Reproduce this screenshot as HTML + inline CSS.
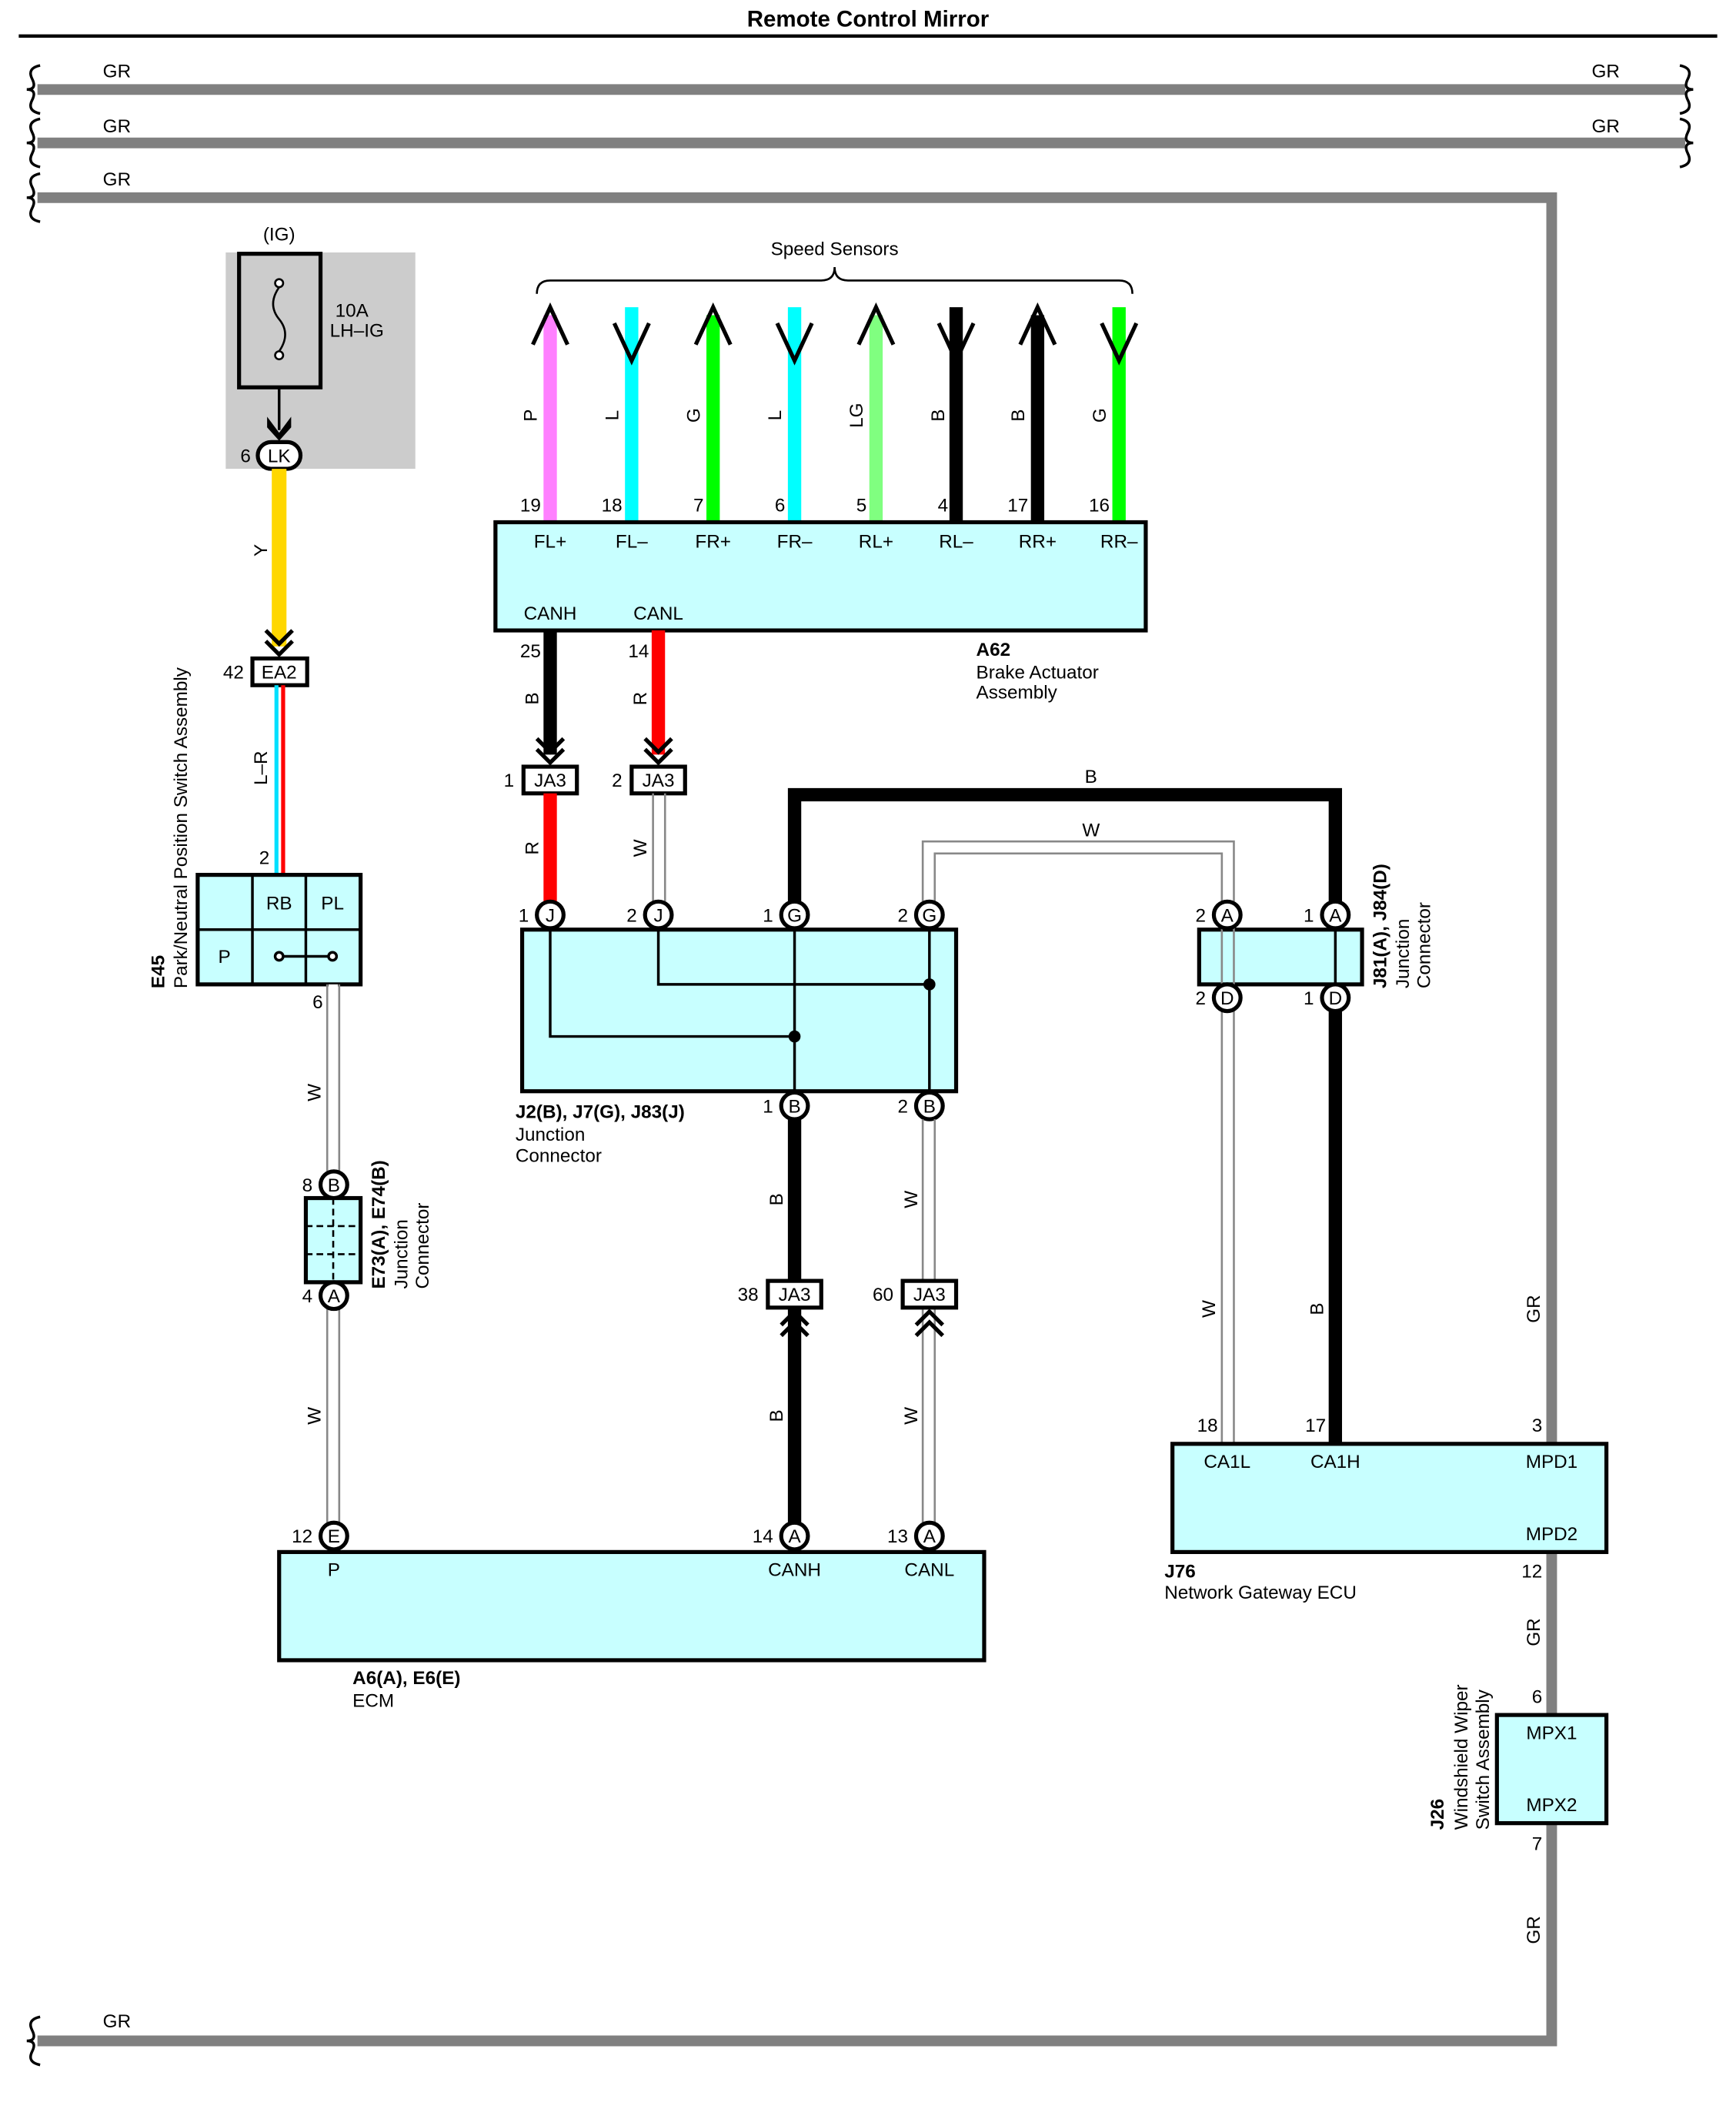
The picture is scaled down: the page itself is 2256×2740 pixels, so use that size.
<!DOCTYPE html>
<html><head><meta charset="utf-8"><style>
html,body{margin:0;padding:0;background:#fff}
svg{display:block}
text{font-family:"Liberation Sans",Arial,sans-serif;font-size:14px;fill:#000}
.b{font-weight:bold}
.c{text-anchor:middle}
.r{text-anchor:end}
</style></head><body>
<svg width="2256" height="2740" viewBox="0 0 1300 1579" xmlns="http://www.w3.org/2000/svg">
<defs>
<g id="brL"><path d="M30,-18 Q20,-16 24,-8 Q28,0 20,0 Q28,0 24,8 Q20,16 30,18" fill="none" stroke="#000" stroke-width="2"/></g>
</defs>
<text x="650" y="20" class="c b" style="font-size:17px">Remote Control Mirror</text>
<line x1="14" y1="27" x2="1286" y2="27" stroke="#000" stroke-width="2.5"/>

<!-- GR wires -->
<g stroke="#808080" stroke-width="8" fill="none">
<line x1="28" y1="67" x2="1262" y2="67"/>
<line x1="28" y1="107" x2="1262" y2="107"/>
<polyline points="28,148 1162,148 1162,1528 28,1528"/>
</g>
<use href="#brL" x="0" y="67"/><use href="#brL" x="0" y="107"/><use href="#brL" x="0" y="148"/><use href="#brL" x="0" y="1528"/>
<path d="M1258,49 Q1268,51 1264,59 Q1260,67 1268,67 Q1260,67 1264,75 Q1268,83 1258,85" fill="none" stroke="#000" stroke-width="2"/>
<path d="M1258,89 Q1268,91 1264,99 Q1260,107 1268,107 Q1260,107 1264,115 Q1268,123 1258,125" fill="none" stroke="#000" stroke-width="2"/>
<text x="77" y="58">GR</text><text x="1192" y="58">GR</text>
<text x="77" y="99">GR</text><text x="1192" y="99">GR</text>
<text x="77" y="139">GR</text><text x="77" y="1518">GR</text>
<text transform="translate(1153,980) rotate(-90)" class="c">GR</text>
<text transform="translate(1153,1222) rotate(-90)" class="c">GR</text>
<text transform="translate(1153,1445) rotate(-90)" class="c">GR</text>

<!-- Fuse -->
<rect x="169" y="189" width="142" height="162" fill="#ccc"/>
<rect x="179" y="190" width="61" height="100" fill="none" stroke="#000" stroke-width="3"/>
<circle cx="209" cy="212" r="3" fill="#fff" stroke="#000" stroke-width="1.5"/>
<circle cx="209" cy="266" r="3" fill="#fff" stroke="#000" stroke-width="1.5"/>
<path d="M209,215 Q200,228 209,239 Q218,250 209,263" fill="none" stroke="#000" stroke-width="1.5"/>
<text x="209" y="180" class="c">(IG)</text>
<text x="251" y="237">10A</text><text x="247" y="252">LH–IG</text>
<line x1="209" y1="290" x2="209" y2="322" stroke="#000" stroke-width="2"/>
<path d="M200,312 L209,324 L218,312 L218,320 L209,330 L200,320Z" fill="#000"/>
<rect x="193" y="331" width="32" height="20" rx="10" fill="#fff" stroke="#000" stroke-width="3"/>
<text x="209" y="346" class="c">LK</text><text x="180" y="346">6</text>

<!-- Y wire -->
<line x1="209" y1="351" x2="209" y2="484" stroke="#ffd700" stroke-width="11"/>
<text transform="translate(200,412) rotate(-90)" class="c">Y</text>
<path d="M199,472 L209,482 L219,472 M199,480 L209,490 L219,480" stroke="#000" stroke-width="3" fill="none"/>
<rect x="189" y="493" width="41" height="20" fill="#fff" stroke="#000" stroke-width="3"/>
<text x="209" y="508" class="c">EA2</text><text x="167" y="508">42</text>
<line x1="207" y1="513" x2="207" y2="655" stroke="#00e0ff" stroke-width="3"/>
<line x1="212" y1="513" x2="212" y2="655" stroke="#ff0000" stroke-width="3"/>
<text transform="translate(200,575) rotate(-90)" class="c">L–R</text>
<text x="194" y="647">2</text>

<!-- E45 -->
<rect x="148" y="655" width="122" height="82" fill="#c8ffff" stroke="#000" stroke-width="3"/>
<line x1="189" y1="655" x2="189" y2="737" stroke="#000" stroke-width="2"/>
<line x1="229" y1="655" x2="229" y2="737" stroke="#000" stroke-width="2"/>
<line x1="148" y1="696" x2="270" y2="696" stroke="#000" stroke-width="2"/>
<text x="209" y="681" class="c">RB</text><text x="249" y="681" class="c">PL</text><text x="168" y="721" class="c">P</text>
<line x1="209" y1="716" x2="249" y2="716" stroke="#000" stroke-width="2"/>
<circle cx="209" cy="716" r="3" fill="#fff" stroke="#000" stroke-width="2"/>
<circle cx="249" cy="716" r="3" fill="#fff" stroke="#000" stroke-width="2"/>
<text transform="translate(123,740) rotate(-90)" class="b">E45</text>
<text transform="translate(140,740) rotate(-90)">Park/Neutral Position Switch Assembly</text>
<text x="234" y="755">6</text>

<!-- W wire left -->
<g stroke="#888" stroke-width="1.5"><line x1="245" y1="737" x2="245" y2="1140"/><line x1="254" y1="737" x2="254" y2="1140"/></g>
<line x1="249.5" y1="737" x2="249.5" y2="1140" stroke="#fff" stroke-width="7"/>
<text transform="translate(240,818) rotate(-90)" class="c">W</text>
<text transform="translate(240,1060) rotate(-90)" class="c">W</text>
<rect x="229" y="897" width="41" height="63" fill="#c8ffff" stroke="#000" stroke-width="3"/>
<line x1="249.5" y1="897" x2="249.5" y2="960" stroke="#000" stroke-width="1.5" stroke-dasharray="5,3"/>
<line x1="229" y1="918" x2="270" y2="918" stroke="#000" stroke-width="1.5" stroke-dasharray="5,3"/>
<line x1="229" y1="939" x2="270" y2="939" stroke="#000" stroke-width="1.5" stroke-dasharray="5,3"/>
<text transform="translate(288,965) rotate(-90)" class="b">E73(A), E74(B)</text>
<text transform="translate(305,965) rotate(-90)">Junction</text>
<text transform="translate(321,965) rotate(-90)">Connector</text>

<!-- A62 -->
<text x="625" y="191" class="c">Speed Sensors</text>
<path d="M402,220 Q402,210 412,210 L615,210 Q625,210 625,200 Q625,210 635,210 L838,210 Q848,210 848,220" fill="none" stroke="#000" stroke-width="1.5"/>
<g stroke-width="10">
<line x1="412" y1="236" x2="412" y2="391" stroke="#ff80ff"/>
<line x1="473" y1="230" x2="473" y2="391" stroke="#00ffff"/>
<line x1="534" y1="236" x2="534" y2="391" stroke="#00ff00"/>
<line x1="595" y1="230" x2="595" y2="391" stroke="#00ffff"/>
<line x1="656" y1="236" x2="656" y2="391" stroke="#80ff80"/>
<line x1="716" y1="230" x2="716" y2="391" stroke="#000"/>
<line x1="777" y1="236" x2="777" y2="391" stroke="#000"/>
<line x1="838" y1="230" x2="838" y2="391" stroke="#00ff00"/>
</g>
<g stroke="#000" stroke-width="3" fill="none">
<path d="M399,258 L412,230 L425,258"/><path d="M460,242 L473,270 L486,242"/>
<path d="M521,258 L534,230 L547,258"/><path d="M582,242 L595,270 L608,242"/>
<path d="M643,258 L656,230 L669,258"/><path d="M703,242 L716,270 L729,242"/>
<path d="M764,258 L777,230 L790,258"/><path d="M825,242 L838,270 L851,242"/>
</g>
<text transform="translate(402,311) rotate(-90)" class="c">P</text>
<text transform="translate(463,311) rotate(-90)" class="c">L</text>
<text transform="translate(524,311) rotate(-90)" class="c">G</text>
<text transform="translate(585,311) rotate(-90)" class="c">L</text>
<text transform="translate(646,311) rotate(-90)" class="c">LG</text>
<text transform="translate(707,311) rotate(-90)" class="c">B</text>
<text transform="translate(767,311) rotate(-90)" class="c">B</text>
<text transform="translate(828,311) rotate(-90)" class="c">G</text>
<text x="405" y="383" class="r">19</text><text x="466" y="383" class="r">18</text>
<text x="527" y="383" class="r">7</text><text x="588" y="383" class="r">6</text>
<text x="649" y="383" class="r">5</text><text x="710" y="383" class="r">4</text>
<text x="770" y="383" class="r">17</text><text x="831" y="383" class="r">16</text>
<rect x="371" y="391" width="487" height="81" fill="#c8ffff" stroke="#000" stroke-width="3"/>
<text x="412" y="410" class="c">FL+</text><text x="473" y="410" class="c">FL–</text>
<text x="534" y="410" class="c">FR+</text><text x="595" y="410" class="c">FR–</text>
<text x="656" y="410" class="c">RL+</text><text x="716" y="410" class="c">RL–</text>
<text x="777" y="410" class="c">RR+</text><text x="838" y="410" class="c">RR–</text>
<text x="412" y="464" class="c">CANH</text><text x="493" y="464" class="c">CANL</text>
<text x="731" y="491" class="b">A62</text><text x="731" y="508">Brake Actuator</text><text x="731" y="523">Assembly</text>

<line x1="412" y1="472" x2="412" y2="565" stroke="#000" stroke-width="10"/>
<line x1="493" y1="472" x2="493" y2="565" stroke="#ff0000" stroke-width="10"/>
<text x="405" y="492" class="r">25</text><text x="486" y="492" class="r">14</text>
<text transform="translate(403,523) rotate(-90)" class="c">B</text>
<text transform="translate(484,523) rotate(-90)" class="c">R</text>
<path d="M402,553 L412,563 L422,553 M402,561 L412,571 L422,561 M483,553 L493,563 L503,553 M483,561 L493,571 L503,561" stroke="#000" stroke-width="3" fill="none"/>
<rect x="392" y="574" width="40" height="20" fill="#fff" stroke="#000" stroke-width="3"/>
<rect x="473" y="574" width="40" height="20" fill="#fff" stroke="#000" stroke-width="3"/>
<text x="412" y="589" class="c">JA3</text><text x="493" y="589" class="c">JA3</text>
<text x="385" y="589" class="r">1</text><text x="466" y="589" class="r">2</text>
<line x1="412" y1="594" x2="412" y2="675" stroke="#ff0000" stroke-width="10"/>
<g stroke="#888" stroke-width="1.5"><line x1="489" y1="594" x2="489" y2="675"/><line x1="498" y1="594" x2="498" y2="675"/></g>
<text transform="translate(403,635) rotate(-90)" class="c">R</text>
<text transform="translate(484,635) rotate(-90)" class="c">W</text>

<!-- B and W overhead -->
<polyline points="595,675 595,595 1000,595 1000,675" fill="none" stroke="#000" stroke-width="10"/>
<polyline points="691,675 691,630 924,630 924,675" fill="none" stroke="#888" stroke-width="1.5"/>
<polyline points="700,675 700,639 915,639 915,675" fill="none" stroke="#888" stroke-width="1.5"/>
<text x="817" y="586" class="c">B</text><text x="817" y="626" class="c">W</text>

<!-- J2 junction -->
<rect x="391" y="696" width="325" height="121" fill="#c8ffff" stroke="#000" stroke-width="3"/>
<g stroke="#000" stroke-width="2" fill="none">
<polyline points="412,696 412,776 595,776"/><polyline points="493,696 493,737 696,737"/>
<line x1="595" y1="696" x2="595" y2="817"/><line x1="696" y1="696" x2="696" y2="817"/>
</g>
<circle cx="595" cy="776" r="4.5" fill="#000"/><circle cx="696" cy="737" r="4.5" fill="#000"/>
<g fill="#fff" stroke="#000" stroke-width="3">
<circle cx="412" cy="685" r="10"/><circle cx="493" cy="685" r="10"/><circle cx="595" cy="685" r="10"/><circle cx="696" cy="685" r="10"/>
<circle cx="595" cy="828" r="10"/><circle cx="696" cy="828" r="10"/>
</g>
<text x="412" y="690" class="c">J</text><text x="493" y="690" class="c">J</text><text x="595" y="690" class="c">G</text><text x="696" y="690" class="c">G</text>
<text x="595" y="833" class="c">B</text><text x="696" y="833" class="c">B</text>
<text x="396" y="690" class="r">1</text><text x="477" y="690" class="r">2</text><text x="579" y="690" class="r">1</text><text x="680" y="690" class="r">2</text>
<text x="579" y="833" class="r">1</text><text x="680" y="833" class="r">2</text>
<text x="386" y="837" class="b">J2(B), J7(G), J83(J)</text><text x="386" y="854">Junction</text><text x="386" y="870">Connector</text>

<!-- down to ECM -->
<line x1="595" y1="838" x2="595" y2="1140" stroke="#000" stroke-width="10"/>
<g stroke="#888" stroke-width="1.5"><line x1="691" y1="838" x2="691" y2="1140"/><line x1="700" y1="838" x2="700" y2="1140"/></g>
<text transform="translate(586,898) rotate(-90)" class="c">B</text><text transform="translate(586,1060) rotate(-90)" class="c">B</text>
<text transform="translate(687,898) rotate(-90)" class="c">W</text><text transform="translate(687,1060) rotate(-90)" class="c">W</text>
<rect x="575" y="959" width="40" height="20" fill="#fff" stroke="#000" stroke-width="3"/>
<rect x="676" y="959" width="40" height="20" fill="#fff" stroke="#000" stroke-width="3"/>
<text x="595" y="974" class="c">JA3</text><text x="696" y="974" class="c">JA3</text>
<text x="568" y="974" class="r">38</text><text x="669" y="974" class="r">60</text>
<path d="M585,992 L595,982 L605,992 M585,1000 L595,990 L605,1000 M686,992 L696,982 L706,992 M686,1000 L696,990 L706,1000" stroke="#000" stroke-width="3" fill="none"/>

<!-- ECM -->
<rect x="209" y="1162" width="528" height="81" fill="#c8ffff" stroke="#000" stroke-width="3"/>
<g fill="#fff" stroke="#000" stroke-width="3">
<circle cx="250" cy="887" r="10"/><circle cx="250" cy="970" r="10"/>
<circle cx="250" cy="1150" r="10"/><circle cx="595" cy="1150" r="10"/><circle cx="696" cy="1150" r="10"/>
</g>
<text x="250" y="892" class="c">B</text><text x="250" y="975" class="c">A</text>
<text x="234" y="892" class="r">8</text><text x="234" y="975" class="r">4</text>
<text x="250" y="1155" class="c">E</text><text x="595" y="1155" class="c">A</text><text x="696" y="1155" class="c">A</text>
<text x="234" y="1155" class="r">12</text><text x="579" y="1155" class="r">14</text><text x="680" y="1155" class="r">13</text>
<text x="250" y="1180" class="c">P</text><text x="595" y="1180" class="c">CANH</text><text x="696" y="1180" class="c">CANL</text>
<text x="264" y="1261" class="b">A6(A), E6(E)</text><text x="264" y="1278">ECM</text>

<!-- J81 -->
<rect x="898" y="696" width="122" height="41" fill="#c8ffff" stroke="#000" stroke-width="3"/>
<line x1="1000" y1="696" x2="1000" y2="737" stroke="#000" stroke-width="2"/>
<g stroke="#888" stroke-width="1.5"><line x1="915" y1="685" x2="915" y2="1080"/><line x1="924" y1="685" x2="924" y2="1080"/></g>
<line x1="1000" y1="757" x2="1000" y2="1080" stroke="#000" stroke-width="10"/>
<g fill="#fff" stroke="#000" stroke-width="3">
<circle cx="919" cy="685" r="10"/><circle cx="1000" cy="685" r="10"/><circle cx="919" cy="747" r="10"/><circle cx="1000" cy="747" r="10"/>
</g>
<text x="919" y="690" class="c">A</text><text x="1000" y="690" class="c">A</text><text x="919" y="752" class="c">D</text><text x="1000" y="752" class="c">D</text>
<text x="903" y="690" class="r">2</text><text x="984" y="690" class="r">1</text><text x="903" y="752" class="r">2</text><text x="984" y="752" class="r">1</text>
<text transform="translate(1038,740) rotate(-90)" class="b">J81(A), J84(D)</text>
<text transform="translate(1055,740) rotate(-90)">Junction</text>
<text transform="translate(1071,740) rotate(-90)">Connector</text>
<text transform="translate(910,980) rotate(-90)" class="c">W</text>
<text transform="translate(991,980) rotate(-90)" class="c">B</text>
<text x="912" y="1072" class="r">18</text><text x="993" y="1072" class="r">17</text>

<!-- J76 -->
<rect x="878" y="1081" width="325" height="81" fill="#c8ffff" stroke="#000" stroke-width="3"/>
<text x="919" y="1099" class="c">CA1L</text><text x="1000" y="1099" class="c">CA1H</text>
<text x="1162" y="1099" class="c">MPD1</text><text x="1162" y="1153" class="c">MPD2</text>
<text x="1155" y="1072" class="r">3</text><text x="1155" y="1181" class="r">12</text>
<text x="872" y="1181" class="b">J76</text><text x="872" y="1197">Network Gateway ECU</text>

<!-- J26 -->
<rect x="1121" y="1284" width="82" height="81" fill="#c8ffff" stroke="#000" stroke-width="3"/>
<text x="1162" y="1302" class="c">MPX1</text><text x="1162" y="1356" class="c">MPX2</text>
<text x="1155" y="1275" class="r">6</text><text x="1155" y="1385" class="r">7</text>
<text transform="translate(1081,1370) rotate(-90)" class="b">J26</text>
<text transform="translate(1099,1370) rotate(-90)">Windshield Wiper</text>
<text transform="translate(1115,1370) rotate(-90)">Switch Assembly</text>
</svg>
</body></html>
